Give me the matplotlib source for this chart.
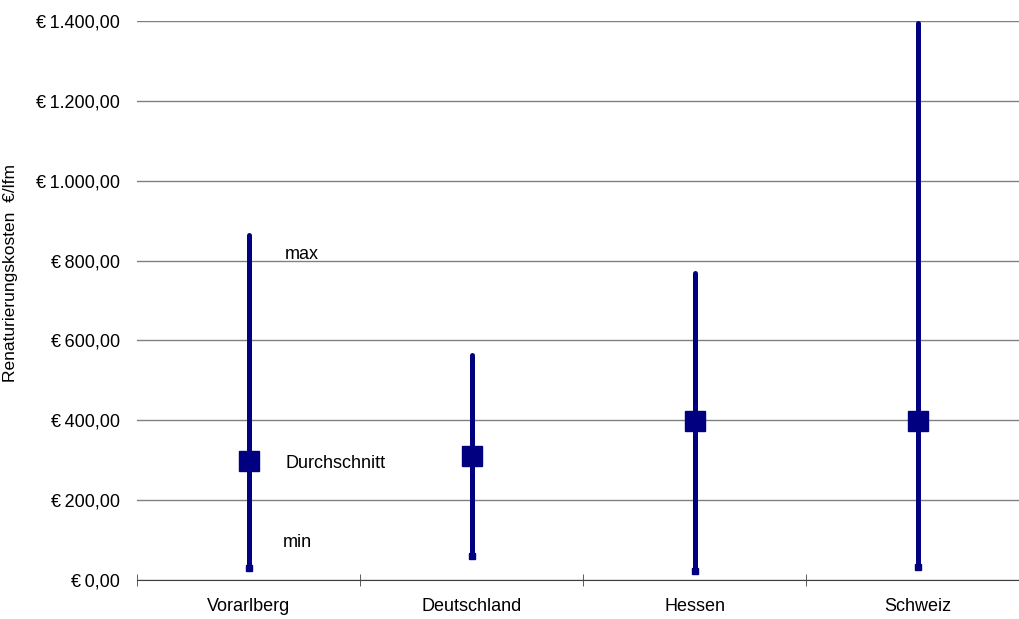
import numpy as np
import matplotlib.pyplot as plt

plt.rcParams['font.family'] = ['Liberation Sans', 'DejaVu Sans']

regions = ['Vorarlberg', 'Deutschland', 'Hessen', 'Schweiz']
cost_min = [30, 60, 23, 33]
cost_avg = [298, 310, 398, 398]
cost_max = [864, 563, 769, 1395]
yticks = [0, 200, 400, 600, 800, 1000, 1200, 1400]

navy = '#000080'
fs = 13

fig = plt.figure(figsize=(10.19, 6.19), dpi=100)
ax = fig.add_axes([137 / 1019, 1 - 580 / 619, 892 / 1019, 559 / 619])

x = np.arange(len(regions))
for xi, lo, av, hi in zip(x, cost_min, cost_avg, cost_max):
    ax.plot([xi, xi], [lo, hi], color=navy, lw=3.6, solid_capstyle='round', zorder=3)
ax.plot(x, cost_min, 's', color=navy, ms=4.5, ls='none', zorder=4)
ax.plot(x, cost_avg, 's', color=navy, ms=14.5, ls='none', zorder=5)

# annotations next to the first series
ax.text(0.165, 816, 'max', fontsize=fs, va='center', ha='left')
ax.text(0.165, 293, 'Durchschnitt', fontsize=fs, va='center', ha='left')
ax.text(0.155, 93, 'min', fontsize=fs, va='center', ha='left')

ax.set_xlim(-0.5, 3.5)
ax.set_ylim(0, 1400)
ax.set_yticks(yticks)
ax.set_yticklabels(['€\u2009' + f'{v:,.2f}'.replace(',', 'X').replace('.', ',').replace('X', '.') for v in yticks],
                   fontsize=fs)
ax.tick_params(axis='y', length=0, pad=12)
ax.yaxis.grid(True, color='#808080', lw=1)
ax.set_axisbelow(True)

ax.set_xticks(x)
ax.set_xticklabels(regions, fontsize=fs)
ax.set_xticks(np.arange(-0.5, 3.6, 1), minor=True)
ax.tick_params(axis='x', which='major', length=0, pad=13)
ax.tick_params(axis='x', which='minor', length=8, direction='inout', color='#404040')

for s in ['left', 'right', 'top']:
    ax.spines[s].set_visible(False)
ax.spines['bottom'].set_color('#404040')

ax.set_ylabel('Renaturierungskosten  €/lfm', fontsize=12.5)
ax.yaxis.set_label_coords(-0.133, 0.549)

fig.savefig('out.png', dpi=100)
